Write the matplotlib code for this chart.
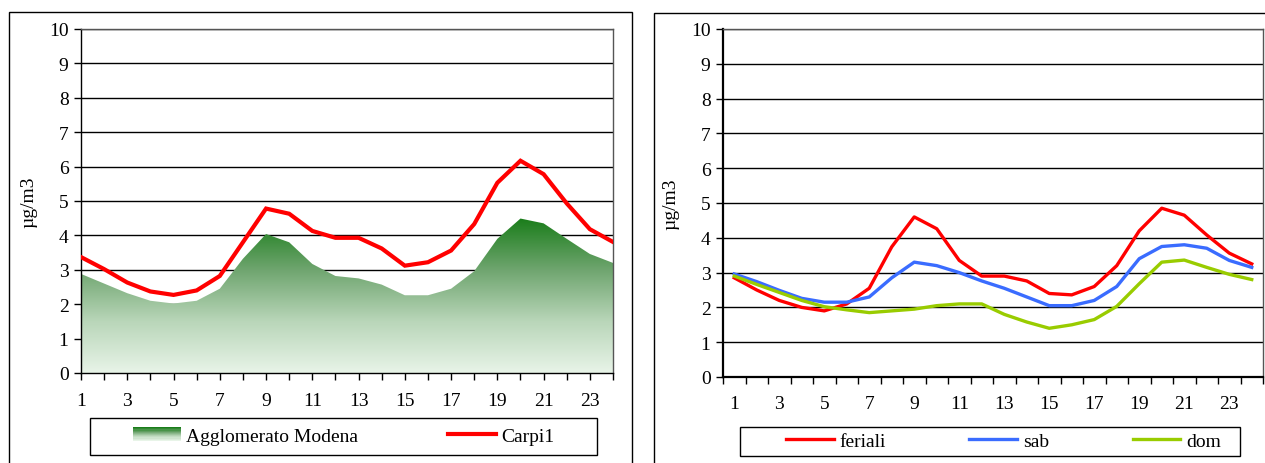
import numpy as np
import matplotlib
matplotlib.use('Agg')
import matplotlib.pyplot as plt
from matplotlib.patches import Rectangle
from matplotlib.lines import Line2D
from matplotlib.legend_handler import HandlerBase
from matplotlib.colors import LinearSegmentedColormap

plt.rcParams['font.family'] = ['Liberation Serif', 'DejaVu Serif']

## Data
hours = list(range(1, 25))
agglomerato = [2.88, 2.6, 2.32, 2.1, 2.02, 2.1, 2.45, 3.32, 4.04, 3.8, 3.17, 2.82,
               2.75, 2.57, 2.26, 2.26, 2.45, 2.96, 3.9, 4.49, 4.35, 3.9, 3.46, 3.2]
carpi1 = [3.37, 3.02, 2.63, 2.37, 2.27, 2.4, 2.82, 3.8, 4.78, 4.63, 4.13, 3.93,
          3.93, 3.62, 3.12, 3.22, 3.56, 4.33, 5.53, 6.17, 5.78, 4.93, 4.18, 3.81]
feriali = [2.85, 2.5, 2.2, 2.0, 1.9, 2.1, 2.55, 3.74, 4.6, 4.26, 3.35, 2.9,
           2.9, 2.76, 2.4, 2.36, 2.6, 3.2, 4.2, 4.85, 4.65, 4.08, 3.56, 3.25]
sab = [2.96, 2.74, 2.49, 2.26, 2.15, 2.15, 2.3, 2.85, 3.3, 3.2, 3.0, 2.76,
       2.55, 2.3, 2.05, 2.05, 2.2, 2.6, 3.4, 3.75, 3.8, 3.7, 3.35, 3.15]
dom = [2.9, 2.66, 2.43, 2.2, 2.02, 1.93, 1.85, 1.9, 1.95, 2.05, 2.1, 2.1,
       1.8, 1.58, 1.4, 1.5, 1.65, 2.03, 2.68, 3.3, 3.36, 3.15, 2.95, 2.8]
y_ticks = list(range(0, 11))
x_labels = [str(h) for h in hours[::2]]

W, H = 1265, 464
green_cmap = LinearSegmentedColormap.from_list('gr', ['#e8f4e8', '#b9d6b9', '#6fa56f', '#1a7d1a'])


class GradientHandler(HandlerBase):
    # stacked thin rectangles to fake a vertical gradient in the legend
    def create_artists(self, legend, orig_handle, xdescent, ydescent, width, height, fontsize, trans):
        n = 12
        arts = []
        for i in range(n):
            r = Rectangle((-xdescent, -ydescent + height * i / n), width, height / n + 0.3,
                          facecolor=green_cmap(i / (n - 1)), edgecolor='none', transform=trans)
            arts.append(r)
        return arts


def fig_box(fig, x0, y0, x1, y1, **kw):
    # pixel coords from top-left -> figure fraction
    r = Rectangle((x0 / W, 1 - y1 / H), (x1 - x0) / W, (y1 - y0) / H, transform=fig.transFigure,
                  fill=False, clip_on=False, **kw)
    fig.add_artist(r)


def style_axis(ax, xlim, xticks, xlabpos, labpad, axis_lw=1):
    ax.xaxis.remove_overlapping_locs = False
    ax.set_ylim(0, 10)
    ax.set_yticks(y_ticks)
    ax.set_xlim(*xlim)
    ax.set_xticks(xticks)
    ax.set_xticklabels([])
    ax.set_xticks(xlabpos, minor=True)
    ax.set_xticklabels(x_labels, minor=True)
    ax.tick_params(axis='x', which='major', direction='out', length=5, width=1, color='black')
    ax.tick_params(axis='x', which='minor', length=0, pad=labpad, labelsize=14)
    ax.tick_params(axis='y', direction='out', length=5, width=1, labelsize=14, pad=4)
    ax.yaxis.grid(True, color='black', lw=1)
    ax.set_axisbelow(True)
    for s in ax.spines.values():
        s.set_color('black')
        s.set_linewidth(1)
    ax.spines['bottom'].set_linewidth(axis_lw)
    ax.spines['left'].set_linewidth(axis_lw)
    ax.spines['top'].set_color('#555555')
    ax.spines['right'].set_color('#555555')
    ax.set_ylabel('µg/m3', fontsize=14, labelpad=8)


fig = plt.figure(figsize=(W / 100, H / 100), dpi=100)

## Left panel
ax1 = fig.add_axes([81 / W, 1 - 374 / H, (613 - 81) / W, (374 - 30) / H])
poly = ax1.fill_between(hours, 0, agglomerato, facecolor='none', edgecolor='none')
top = max(agglomerato)
grad = np.linspace(0, 1, 256).reshape(-1, 1)
im = ax1.imshow(grad, cmap=green_cmap, origin='lower', aspect='auto',
                extent=[hours[0], hours[-1], 0, top], zorder=1)
im.set_clip_path(poly.get_paths()[0], transform=ax1.transData)
ax1.plot(hours, carpi1, color='#ff0000', lw=3, zorder=3, solid_joinstyle='miter')
style_axis(ax1, (1, 24), hours, hours[::2], 14)

h1 = [Rectangle((0, 0), 1, 1), Line2D([], [], color='#ff0000', lw=3)]
fig.legend(h1, ['Agglomerato Modena', 'Carpi1'], loc='center left',
           bbox_to_anchor=(133 / W, 1 - 437 / H), ncol=2, frameon=False, fontsize=14,
           handlelength=2.45, handletextpad=0.3, columnspacing=4.6, borderpad=0, borderaxespad=0,
           handler_map={Rectangle: GradientHandler()})
fig_box(fig, 90, 419, 597, 456, edgecolor='black', lw=1)

## Right panel
ax2 = fig.add_axes([723 / W, 1 - 378 / H, (1263 - 723) / W, (378 - 30) / H])
ax2.plot(hours, feriali, color='#ff0000', lw=2.4, zorder=3, label='feriali')
ax2.plot(hours, sab, color='#3a6cff', lw=2.4, zorder=3, label='sab')
ax2.plot(hours, dom, color='#99cc00', lw=2.4, zorder=3, label='dom')
style_axis(ax2, (0.5, 24.5), np.arange(0.5, 25, 1), hours[::2], 13, axis_lw=1.6)

fig.legend(loc='center left', bbox_to_anchor=(786 / W, 1 - 442 / H), ncol=3, frameon=False,
           fontsize=14, handlelength=2.45, handletextpad=0.3, columnspacing=4.3,
           borderpad=0, borderaxespad=0)
fig_box(fig, 740, 428, 1240, 457, edgecolor='black', lw=1)

## outer chart frames
fig_box(fig, 9, 13, 632, 480, edgecolor='black', lw=1)
fig_box(fig, 654, 14, 1290, 480, edgecolor='black', lw=1)

plt.savefig('out.png', dpi=100)
